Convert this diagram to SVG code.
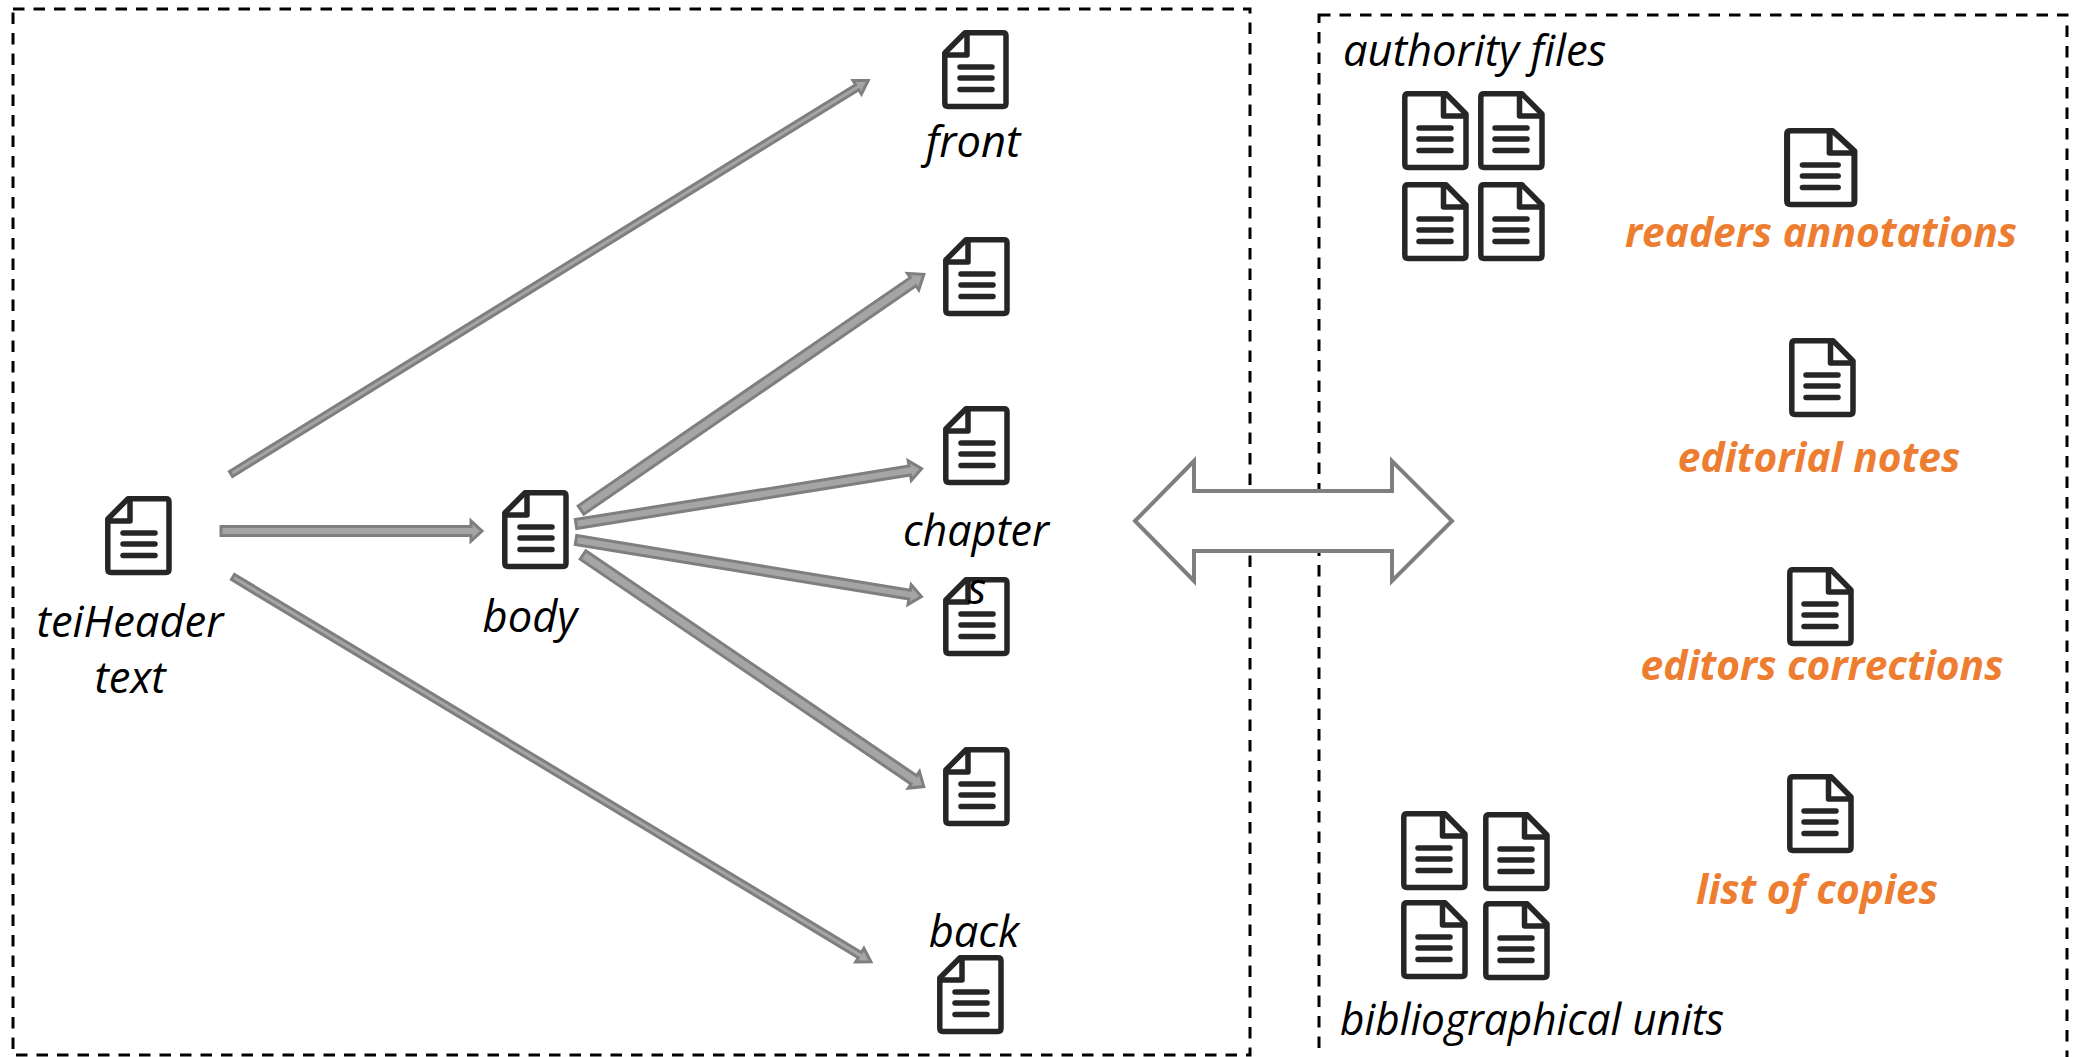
<svg xmlns="http://www.w3.org/2000/svg" width="2078" height="1057" viewBox="0 0 2078 1057">
<style>
.box{fill:none;stroke:#000;stroke-width:3;stroke-dasharray:11.500 9}
.arr{fill:#a5a5a5;stroke:#7f7f7f;stroke-width:3;stroke-linejoin:miter}
.t{font-family:"Open Sans",sans-serif;font-style:italic;font-size:43.500px;fill:#000}
.c{text-anchor:middle}
.o{font-family:"Open Sans",sans-serif;font-style:italic;font-weight:700;font-size:40.700px;fill:#ed7d31;text-anchor:middle}
.ic{fill:#fff;stroke:#262626;stroke-width:5.500;stroke-linejoin:round}
.ln{stroke:#262626;stroke-width:5.500;stroke-linecap:round;fill:none}
</style>
<defs>
<g id="docL"><path class="ic" d="M2.800 23L23 2.800H61Q64 2.800 64 6V73Q64 76.500 61 76.500H6Q2.800 76.500 2.800 73Z"/><path class="ic" style="fill:none" d="M25 2.800V25H2.800"/><path class="ln" d="M18 37H50M18 48H50M18 59.500H50"/></g>
<g id="docR"><path class="ic" d="M64 23L44 2.800H6Q2.800 2.800 2.800 6V73Q2.800 76.500 6 76.500H61Q64 76.500 64 73Z"/><path class="ic" style="fill:none" d="M41.500 2.800V25H64"/><path class="ln" d="M17 37H49M17 48H49M17 59.500H49"/></g>
</defs>
<rect width="2078" height="1057" fill="#fff"/>
<g id="containers">
<rect class="box" x="13" y="9" width="1237" height="1046"/>
<rect class="box" x="1319" y="15" width="748" height="1060"/>
</g>
<g id="connectors">
<polygon class="arr" transform="translate(231 474) rotate(-31.700)" points="0,-3 736,-3 736,-8 749,0 736,8 736,3 0,3"/>
<polygon class="arr" transform="translate(221 531)" points="0,-4.500 250,-4.500 250,-10 261,0 250,10 250,4.500 0,4.500"/>
<polygon class="arr" transform="translate(233 577) rotate(31.100)" points="0,-3 732,-3 732,-8 745,0 732,8 732,3 0,3"/>
<polygon class="arr" transform="translate(581 510) rotate(-34.500)" points="0,-5 403,-5 403,-10 416,0 403,10 403,5 0,5"/>
<polygon class="arr" transform="translate(576 524) rotate(-9.100)" points="0,-4.500 338,-4.500 338,-10 350,0 338,10 338,4.500 0,4.500"/>
<polygon class="arr" transform="translate(576 540) rotate(9.300)" points="0,-4.500 338,-4.500 338,-10 350,0 338,10 338,4.500 0,4.500"/>
<polygon class="arr" transform="translate(583 555) rotate(34.200)" points="0,-5 400,-5 400,-10 412,0 400,10 400,5 0,5"/>
<polygon id="double-arrow" points="1135,521 1194,461 1194,491 1392,491 1392,461 1452,521 1392,581 1392,551 1194,551 1194,581" fill="#fff" stroke="#7f7f7f" stroke-width="4"/>
</g>
<g id="teiHeader"><use href="#docL" x="105" y="496"/><text class="t c" x="130" y="637">teiHeader</text><text class="t c" x="130" y="693">text</text></g>
<g id="body"><use href="#docL" x="502" y="490"/><text class="t c" x="530" y="632">body</text></g>
<g id="front"><use href="#docL" x="942" y="30"/><text class="t c" x="973" y="157">front</text></g>
<g id="doc2"><use href="#docL" x="943" y="237"/></g>
<g id="doc3"><use href="#docL" x="943" y="406"/></g>
<g id="doc4"><use href="#docL" x="943" y="577"/></g>
<g id="doc5"><use href="#docL" x="943" y="747"/></g>
<g id="chapters"><text class="t c" x="976" y="546" textLength="146" lengthAdjust="spacingAndGlyphs">chapter</text><text class="t c" x="977" y="604">s</text></g>
<g id="back"><use href="#docL" x="937" y="955"/><text class="t c" x="974" y="947">back</text></g>
<g id="authority-files"><text class="t" x="1343" y="66">authority files</text>
<use href="#docR" x="1402" y="91"/><use href="#docR" x="1478" y="91"/><use href="#docR" x="1402" y="182"/><use href="#docR" x="1478" y="182"/></g>
<g id="readers-annotations"><use href="#docR" transform="translate(1784 128) scale(1.100 1)"/><text class="o" x="1821" y="247">readers annotations</text></g>
<g id="editorial-notes"><use href="#docR" x="1789" y="338"/><text class="o" x="1819" y="472">editorial notes</text></g>
<g id="editors-corrections"><use href="#docR" x="1787" y="567"/><text class="o" x="1822" y="680">editors corrections</text></g>
<g id="list-of-copies"><use href="#docR" x="1787" y="774"/><text class="o" x="1817" y="904">list of copies</text></g>
<g id="bibliographical-units"><use href="#docR" x="1401" y="811"/><use href="#docR" x="1483" y="812"/><use href="#docR" x="1401" y="900"/><use href="#docR" x="1483" y="901"/><text class="t" x="1340" y="1035" textLength="384" lengthAdjust="spacingAndGlyphs">bibliographical units</text></g>
</svg>
